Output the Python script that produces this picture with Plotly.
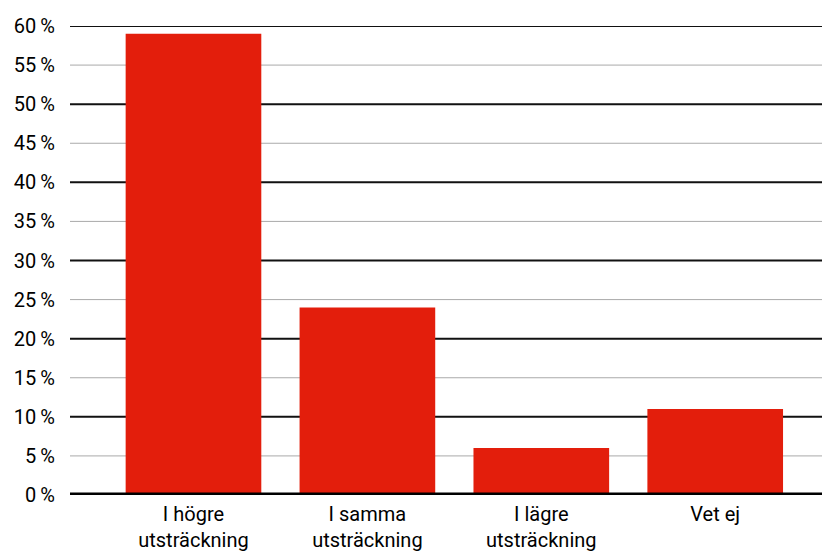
import plotly.graph_objects as go

categories = ["I högre<br>utsträckning", "I samma<br>utsträckning", "I lägre<br>utsträckning", "Vet ej"]
values = [59, 24, 6, 11]
tick_vals = [0, 5, 10, 15, 20, 25, 30, 35, 40, 45, 50, 55, 60]
tick_text = [f"{v}\u2009%" for v in tick_vals]
major_lines = [10, 20, 30, 40, 50, 60]
minor_lines = [5, 15, 25, 35, 45, 55]

fig = go.Figure(go.Bar(x=categories, y=values, marker_color="#E31E0C",
                       marker_line_width=0, hoverinfo="skip"))

shapes = []
for v in minor_lines:
    shapes.append(dict(type="line", xref="paper", yref="y", x0=0, x1=1, y0=v, y1=v,
                       line=dict(color="#aaaaaa", width=1), layer="below"))
for v in major_lines:
    shapes.append(dict(type="line", xref="paper", yref="y", x0=0, x1=1, y0=v, y1=v,
                       line=dict(color="#111111", width=2), layer="below"))
shapes.append(dict(type="line", xref="paper", yref="y", x0=0, x1=1, y0=0, y1=0,
                   line=dict(color="#000000", width=5), layer="above"))

# page body has an 8px margin, so the figure is sized to fill the rest of the window
fig.update_layout(
    width=822, height=548,
    margin=dict(l=62, r=0, t=18, b=61),
    paper_bgcolor="white", plot_bgcolor="white",
    font=dict(family="Roboto", size=20, color="#000000"),
    bargap=0.22,
    showlegend=False,
    shapes=shapes,
    xaxis=dict(range=[-0.71, 3.66], showgrid=False, zeroline=False, showline=False,
               ticks="", fixedrange=True, ticklabelstandoff=5, automargin=False),
    yaxis=dict(range=[0, 60], tickvals=tick_vals, ticktext=tick_text,
               showgrid=False, zeroline=False, showline=False, ticks="",
               ticklabelstandoff=14, fixedrange=True, automargin=False),
)

fig.write_html("out.html")
